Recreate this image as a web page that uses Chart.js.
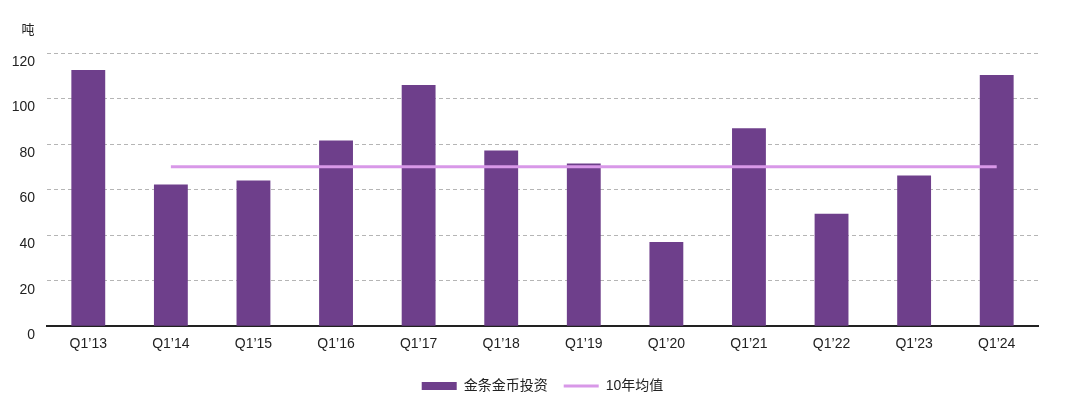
<!DOCTYPE html>
<html>
<head>
<meta charset="utf-8">
<script src="https://cdn.jsdelivr.net/npm/chart.js@4/dist/chart.umd.min.js"></script>
<style>
  html, body { margin: 0; padding: 0; background: #fff; }
  #wrap { width: 1080px; height: 407px; position: relative; }
</style>
</head>
<body>
<div id="wrap"><canvas id="chart"></canvas></div>
<script>
// ==================================================
// DATA
// ==================================================
const quarters = ["Q1\u201913", "Q1\u201914", "Q1\u201915", "Q1\u201916", "Q1\u201917", "Q1\u201918",
                  "Q1\u201919", "Q1\u201920", "Q1\u201921", "Q1\u201922", "Q1\u201923", "Q1\u201924"];
const barCoinValues = [112.5, 62.2, 64, 81.6, 105.9, 77.2, 71.5, 37, 86.9, 49.4, 66.2, 110.3];
const tenYearAvg = [null, 70, 70, 70, 70, 70, 70, 70, 70, 70, 70, 70];
const yTicks = [0, 20, 40, 60, 80, 100, 120];

const barColor = "#6e3f8b";
const avgColor = "#d898e8";
const fontFamily = "'Liberation Sans', 'Noto Sans CJK SC', sans-serif";

// draws the unit label above the y axis
const unitLabel = {
    id: "unitLabel",
    afterDraw(chart) {
        const ctx = chart.ctx;
        ctx.save();
        ctx.font = "13px 'Noto Sans CJK SC'";
        ctx.fillStyle = "#222";
        ctx.textAlign = "center";
        ctx.textBaseline = "middle";
        ctx.fillText("吨", 28, 29);
        ctx.restore();
    }
};

const ctx = document.getElementById("chart").getContext("2d");
new Chart(ctx, {
    data: {
        labels: quarters,
        datasets: [
            {
                type: "line",
                label: "10年均值",
                data: tenYearAvg,
                borderColor: avgColor,
                backgroundColor: avgColor,
                borderWidth: 3,
                pointRadius: 0,
                order: 0
            },
            {
                type: "bar",
                label: "金条金币投资",
                data: barCoinValues,
                backgroundColor: barColor,
                borderWidth: 0,
                barPercentage: 0.41,
                categoryPercentage: 1,
                order: 1
            }
        ]
    },
    options: {
        responsive: true,
        maintainAspectRatio: false,
        animation: false,
        layout: { padding: { top: 53, right: 42, left: 0, bottom: 4 } },
        plugins: {
            tooltip: { enabled: false },
            legend: {
                position: "bottom",
                fullSize: false,
                reverse: true,
                labels: {
                    usePointStyle: true,
                    pointStyleWidth: 35,
                    boxHeight: 8,
                    padding: 16,
                    color: "#222",
                    font: { family: fontFamily, size: 14 },
                    generateLabels(chart) {
                        return chart.data.datasets.map((ds, i) => ({
                            text: ds.label,
                            datasetIndex: i,
                            fillStyle: ds.type === "bar" ? barColor : avgColor,
                            strokeStyle: ds.type === "bar" ? barColor : avgColor,
                            lineWidth: ds.type === "bar" ? 0 : 3,
                            pointStyle: ds.type === "bar" ? "rect" : "line",
                            fontColor: "#222",
                            hidden: false
                        }));
                    }
                }
            }
        },
        scales: {
            x: {
                afterFit(scale) { scale.height += 8; },
                grid: { display: false },
                border: { display: true, color: "#222", width: 2 },
                ticks: { color: "#222", font: { family: fontFamily, size: 14 }, padding: 2, maxRotation: 0 }
            },
            y: {
                min: 0,
                max: 120,
                afterFit(scale) { scale.width = 47; },
                afterBuildTicks(scale) { scale.ticks = yTicks.map(v => ({ value: v })); },
                border: { display: false, dash: [4, 3] },
                grid: { color: "#b5b5b5", lineWidth: 1, drawTicks: false },
                ticks: { color: "#222", font: { family: fontFamily, size: 14 }, padding: 12, labelOffset: 9 }
            }
        }
    },
    plugins: [unitLabel]
});
</script>
</body>
</html>
